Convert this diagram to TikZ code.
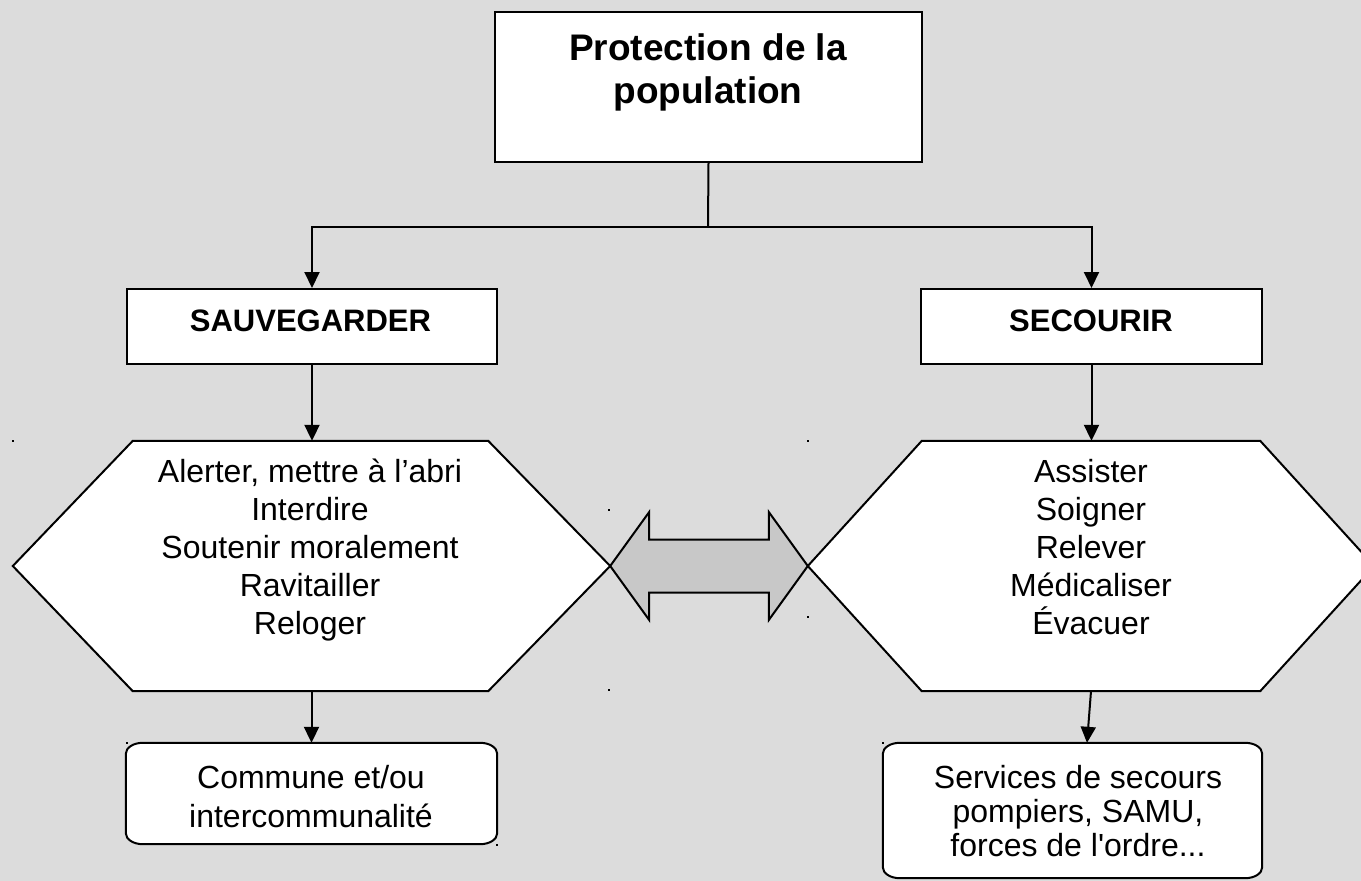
\documentclass[tikz,border=0pt]{standalone}
\usepackage{fontspec}
\setmainfont{Liberation Sans}[Ligatures=TeXOff]
\usetikzlibrary{arrows.meta,calc}
\definecolor{bg}{RGB}{220,220,220}
\definecolor{arrowfill}{RGB}{200,200,200}
\newcommand\softborder[1]{%
  \draw[line, fill=white] ([xshift=17pt]#1.north west) -- ([xshift=-17pt]#1.north east)
    .. controls ([xshift=-7.6pt]#1.north east) and ([yshift=-4.9pt]#1.north east) .. ([yshift=-11pt]#1.north east)
    -- ([yshift=11pt]#1.south east)
    .. controls ([yshift=4.9pt]#1.south east) and ([xshift=-7.6pt]#1.south east) .. ([xshift=-17pt]#1.south east)
    -- ([xshift=17pt]#1.south west)
    .. controls ([xshift=7.6pt]#1.south west) and ([yshift=4.9pt]#1.south west) .. ([yshift=11pt]#1.south west)
    -- ([yshift=-11pt]#1.north west)
    .. controls ([yshift=-4.9pt]#1.north west) and ([xshift=7.6pt]#1.north west) .. ([xshift=17pt]#1.north west)
    -- cycle;}
\begin{document}
\begin{tikzpicture}[x=1pt,y=-1pt,
  line/.style={line width=2pt, line join=miter},
  conn/.style={line, -{Triangle[length=16pt,width=15pt]}},
  box/.style={draw, line width=2pt, fill=white, inner sep=0pt},
  blank/.style={inner sep=0pt},
  body/.style={font=\fontsize{32}{37.8}\selectfont, align=center, inner sep=0pt},
  heading/.style={font=\fontsize{31}{36}\selectfont\bfseries, inner sep=0pt},
  dot/.style={fill=black, minimum size=2.5pt, inner sep=0pt}]

\fill[bg] (0,0) rectangle (1361,881);
\useasboundingbox (0,0) rectangle (1361,881);
\clip (0,0) rectangle (1361,881);

% top box
\node[box, minimum width=427pt, minimum height=150pt] (top) at (708.5,87) {};
\node[font=\fontsize{37}{43}\selectfont\bfseries, align=center, inner sep=0pt, anchor=base] (toptxt) at (708,103) {Protection de la\\population};

% level 2 boxes
\node[box, minimum width=370pt, minimum height=75pt] (sauv) at (312,326.5) {};
\node[heading, anchor=base] (sauvtxt) at (310.5,331) {SAUVEGARDER};
\node[box, minimum width=341pt, minimum height=75pt] (secourir) at (1091.5,326.5) {};
\node[heading, anchor=base] (secourirtxt) at (1091,331) {SECOURIR};

% hexagons
\node[blank, minimum width=597pt, minimum height=250pt] (hexL) at (311.5,566) {};
\draw[line, fill=white] (hexL.west) -- ([xshift=120pt]hexL.north west) -- ([xshift=-122pt]hexL.north east)
  -- (hexL.east) -- ([xshift=-122pt]hexL.south east) -- ([xshift=120pt]hexL.south west) -- cycle;
\node[body, anchor=base] (hexLtxt) at (310,634) {Alerter, mettre à l’abri\\Interdire\\Soutenir moralement\\Ravitailler\\Reloger};

\node[blank, minimum width=566pt, minimum height=250pt] (hexR) at (1091,566) {};
\draw[line, fill=white] (hexR.west) -- ([xshift=114pt]hexR.north west) -- ([xshift=-114pt]hexR.north east)
  -- (hexR.east) -- ([xshift=-114pt]hexR.south east) -- ([xshift=114pt]hexR.south west) -- cycle;
\node[body, anchor=base] (hexRtxt) at (1091,634) {Assister\\Soigner\\Relever\\Médicaliser\\Évacuer};

% double arrow
\draw[line, fill=arrowfill] (hexL.east) -- ++(39,-54) -- ++(0,27.5) -- ($(hexR.west)+(-39,-26.5)$)
  -- ++(0,-27.5) -- (hexR.west) -- ++(-39,54) -- ++(0,-27.5) -- ($(hexL.east)+(39,26.5)$) -- ++(0,27.5) -- cycle;

% bottom boxes
\node[blank, minimum width=371pt, minimum height=101pt] (commune) at (311.5,793.5) {};
\softborder{commune}
\node[font=\fontsize{32}{39}\selectfont, align=center, inner sep=0pt, anchor=base] (communetxt) at (311,827) {Commune et/ou\\intercommunalité};

\node[blank, minimum width=379pt, minimum height=135pt] (services) at (1072.5,810.5) {};
\softborder{services}
\node[font=\fontsize{32}{34}\selectfont, align=center, inner sep=0pt, anchor=base] (servicestxt) at (1078,856) {Services de secours\\pompiers, SAMU,\\forces de l'ordre...};

% connectors
\coordinate (split) at (708,227);
\draw[line] (top.south) -- (split);
\draw[conn] (split) -| (sauv.north);
\draw[conn] (split) -| (secourir.north);
\draw[conn] (sauv.south) -- (sauv.south |- hexL.north);
\draw[conn] (secourir.south) -- (secourir.south |- hexR.north);
\draw[conn] (hexL.south) -- (commune.north);
\draw[conn] (hexR.south) -- ([xshift=14.5pt]services.north);

% stray dots
\node[dot] (d1) at (13,441) {};
\node[dot] (d2) at (808,441) {};
\node[dot] (d3) at (609,510) {};
\node[dot] (d4) at (808,617) {};
\node[dot] (d5) at (609,690) {};
\node[dot] (d6) at (127,743) {};
\node[dot] (d7) at (497,845) {};
\node[dot] (d8) at (883,743) {};
\end{tikzpicture}
\end{document}
